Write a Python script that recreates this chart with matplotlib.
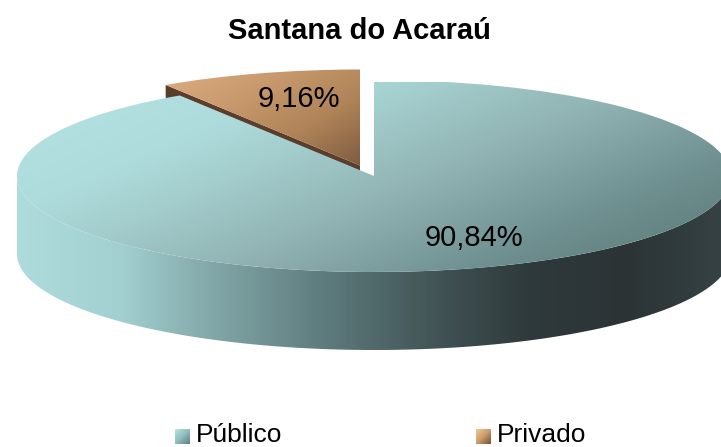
import numpy as np
import matplotlib
matplotlib.use("Agg")
import matplotlib.pyplot as plt
from matplotlib.colors import LinearSegmentedColormap as LSC
from matplotlib.patches import PathPatch, Rectangle
from matplotlib.path import Path

title = "Santana do Acaraú"
categories = ["Público", "Privado"]
shares = [90.84, 9.16]
labels = ["90,84%", "9,16%"]

plt.rcParams['font.family'] = ['Liberation Sans', 'DejaVu Sans']
W, H = 721, 447
RX, RY, DEPTH = 357, 96, 78
C0 = (374, 176)   # pixel centre of the Público slice top
C1 = (360, 165.5) # pixel centre of the Privado slice top

fig = plt.figure(figsize=(W/100, H/100), dpi=100)
ax = fig.add_axes([0, 0, 1, 1])
wedges, _ = ax.pie(shares, startangle=90, counterclock=False, radius=1)
ax.set_aspect('auto')

# one data unit = RX px horizontally, RY px vertically; origin at C0
def X(px): return (px - C0[0]) / RX
def Y(py): return (C0[1] - py) / RY
ax.set_xlim(X(0), X(W)); ax.set_ylim(Y(H), Y(0))
ax.set_axis_off()

def grad(x0, y0, x1, y1, stops, angle, clip, z):
    """Gradient image over the pixel box, clipped to a patch. angle: 0 = left->right, 90 = top->bottom."""
    n = 300
    xx, yy = np.meshgrid(np.linspace(0, 1, n), np.linspace(0, 1, n))
    a = np.deg2rad(angle)
    t = xx*np.cos(a) + yy*np.sin(a)
    t = (t - t.min())/(t.max() - t.min())
    im = ax.imshow(t, extent=(X(x0), X(x1), Y(y1), Y(y0)), origin='upper', aspect='auto',
                   cmap=LSC.from_list('g', stops), vmin=0, vmax=1, zorder=z, interpolation='bilinear')
    im.set_clip_path(clip)
    return im

# slice centres
main, priv = wedges
main.set_center((0, 0))
priv.set_center((X(C1[0]), Y(C1[1])))
main.set_facecolor('none'); priv.set_facecolor('none')
main.set_edgecolor('none'); priv.set_edgecolor('none')
main.set_zorder(5); priv.set_zorder(3)

# side wall of Público: lower half of the rim
th = np.linspace(np.pi, 2*np.pi, 240)
rx, ry = np.cos(th), np.sin(th)
d = DEPTH / RY
wall_xy = np.r_[np.c_[rx, ry], np.c_[rx[::-1], ry[::-1] - d]]
wall = PathPatch(Path(np.r_[wall_xy, wall_xy[:1]], closed=True), fc='none', ec='none', zorder=4)
ax.add_patch(wall)
grad(17, 170, 731, 355,
     ['#aedcdc', '#a2d0d0', '#7fa3a4', '#5e7c7e', '#445759', '#2f3a3c', '#2b3335', '#364345'],
     0, wall, 4)

# cut face of Privado, seen below its straight left edge
a = np.deg2rad(90 + shares[1]/100*360)
cx1, cy1 = X(C1[0]), Y(C1[1])
ex, ey = cx1 + np.cos(a), cy1 + np.sin(a)
face = PathPatch(Path([(ex, ey), (cx1, cy1), (cx1, cy1 - d), (ex, ey - d), (ex, ey)], closed=True),
                 fc='#5a3d2b', ec='none', zorder=2)
ax.add_patch(face)

# top surfaces
main_stops = [(0.0, '#b6e2e2'), (0.25, '#aedcdc'), (0.35, '#a6d0d0'),
              (0.57, '#8fb0b0'), (0.77, '#6f9090'), (1.0, '#587474')]
grad(17, 82, 731, 272, main_stops, 31, main, 5)
grad(165, 68, 360, 168, ['#dcae80', '#c89a6e', '#b08458', '#7d5a40'], 40, priv, 3)

# data labels
ax.text(X(473.5), Y(238), labels[0], fontsize=21, ha='center', va='center', color='black', zorder=8)
ax.text(X(298.5), Y(99), labels[1], fontsize=21, ha='center', va='center', color='black', zorder=8)

# title
ax.text(X(359), Y(31), title, fontsize=21, fontweight='bold', ha='center', va='center', color='black', zorder=8)

# legend
leg = [(175, categories[0], ['#b6e6e6', '#8fbcbc', '#5c7f80'], 196),
       (476, categories[1], ['#f8c894', '#c99a6c', '#6f5238'], 497)]
for x0, name, stops, tx in leg:
    r = Rectangle((X(x0), Y(444)), 15/RX, 15/RY, fc='none', ec='none', zorder=6)
    ax.add_patch(r)
    grad(x0, 429, x0+15, 444, stops, 45, r, 6)
    ax.text(X(tx), Y(442), name, fontsize=19, ha='left', va='baseline', color='black', zorder=8)

ax.set_xlim(X(0), X(W)); ax.set_ylim(Y(H), Y(0))
fig.savefig('out.png', dpi=100, facecolor='white')
